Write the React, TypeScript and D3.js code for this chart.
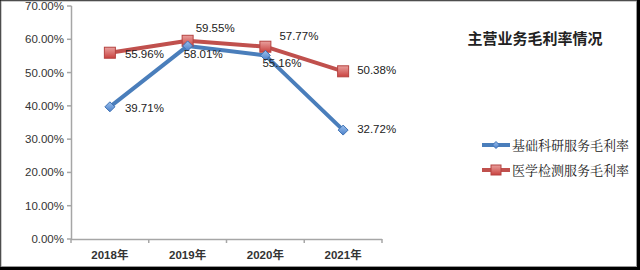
import React from "react";
import * as d3 from "d3";

const categories = ["2018年", "2019年", "2020年", "2021年"];
const seriesNames = ["基础科研服务毛利率", "医学检测服务毛利率"];
const basicResearch = [39.71, 58.01, 55.16, 32.72];
const medicalTesting = [55.96, 59.55, 57.77, 50.38];
const yTicks = [0, 10, 20, 30, 40, 50, 60, 70];
const title = "主营业务毛利率情况";

const W = 640;
const H = 270;
const font = "'Liberation Sans', Arial, sans-serif";
const cjkFont = "'Noto Sans CJK SC', sans-serif";

export default function App() {
  const x = d3.scaleBand<string>().domain(categories).range([71, 382]);
  const y = d3.scaleLinear().domain([0, 70]).range([239, 6]);
  const cx = (c: string) => (x(c) as number) + x.bandwidth() / 2;
  const line = d3
    .line<number>()
    .x((_, i) => cx(categories[i]))
    .y((d) => y(d));

  const blue = "#4f81bd";
  const red = "#c0504d";

  const blueLabelOff = [
    [15, 5],
    [-4, 12],
    [-3, 12],
    [14, 3],
  ];
  const redLabelOff = [
    [15, 5],
    [8, -9],
    [14, -7],
    [14, 3],
  ];

  const diamond = (px: number, py: number, s: number) =>
    `M${px},${py - s} L${px + s},${py} L${px},${py + s} L${px - s},${py} Z`;

  return (
    <div style={{ position: "fixed", left: 0, top: 0 }}>
      <svg width={W} height={H} style={{ display: "block" }}>
        <defs>
          <linearGradient id="redG" x1="0" y1="0" x2="0" y2="1">
            <stop offset="0" stopColor="#e9a09e" />
            <stop offset="1" stopColor="#c9423f" />
          </linearGradient>
          <linearGradient id="blueG" x1="0" y1="0" x2="0" y2="1">
            <stop offset="0" stopColor="#9cc1ee" />
            <stop offset="1" stopColor="#4a7fc8" />
          </linearGradient>
        </defs>
        <rect x={0} y={0} width={W} height={H} fill="#000" />
        <rect x={1} y={1} width={635.5} height={265.5} fill="#fff" stroke="#9a9a9a" strokeWidth={1} />

        {/* Y axis */}
        <line x1={71.5} x2={71.5} y1={y(70)} y2={y(0)} stroke="#a6a6a6" strokeWidth={1.5} />
        {yTicks.map((t) => (
          <g key={t}>
            <line x1={67} x2={71.5} y1={y(t)} y2={y(t)} stroke="#a6a6a6" strokeWidth={1.5} />
            <text
              x={64}
              y={y(t) + 4}
              textAnchor="end"
              fontFamily={font}
              fontSize={11.5}
              fill="#333"
            >
              {t.toFixed(2)}%
            </text>
          </g>
        ))}

        {/* X axis */}
        <line x1={71} x2={382} y1={y(0) + 0.5} y2={y(0) + 0.5} stroke="#a6a6a6" strokeWidth={1.5} />
        {[...categories.map((c) => x(c) as number), 382].map((v, i) => (
          <line key={i} x1={v} x2={v} y1={y(0)} y2={y(0) + 4} stroke="#a6a6a6" strokeWidth={1.5} />
        ))}
        {categories.map((c) => (
          <text
            key={c}
            x={cx(c)}
            y={259}
            textAnchor="middle"
            fontFamily={`${font}, ${cjkFont}`}
            fontSize={11.5}
            fontWeight="bold"
            fill="#333"
          >
            {c}
          </text>
        ))}

        {/* Lines */}
        <path d={line(medicalTesting) || ""} fill="none" stroke={red} strokeWidth={4} strokeLinejoin="round" />
        <path d={line(basicResearch) || ""} fill="none" stroke="#4a7ebb" strokeWidth={4} strokeLinejoin="round" />

        {/* Markers */}
        {medicalTesting.map((v, i) => (
          <rect
            key={"r" + i}
            x={cx(categories[i]) - 5.5}
            y={y(v) - 5.5}
            width={11}
            height={11}
            fill="url(#redG)"
            stroke="#b54340"
            strokeWidth={1}
          />
        ))}
        {basicResearch.map((v, i) => (
          <path
            key={"b" + i}
            d={diamond(cx(categories[i]), y(v), 5)}
            fill="url(#blueG)"
            stroke="#3f72b5"
            strokeWidth={1}
          />
        ))}

        {/* Labels */}
        {medicalTesting.map((v, i) => (
          <text
            key={"rl" + i}
            x={cx(categories[i]) + redLabelOff[i][0]}
            y={y(v) + redLabelOff[i][1]}
            fontFamily={font}
            fontSize={11.5}
            fill="#222"
          >
            {v.toFixed(2)}%
          </text>
        ))}
        {basicResearch.map((v, i) => (
          <text
            key={"bl" + i}
            x={cx(categories[i]) + blueLabelOff[i][0]}
            y={y(v) + blueLabelOff[i][1]}
            fontFamily={font}
            fontSize={11.5}
            fill="#222"
          >
            {v.toFixed(2)}%
          </text>
        ))}

        {/* Title */}
        <text
          x={535}
          y={44}
          textAnchor="middle"
          fontFamily={cjkFont}
          fontSize={15}
          fontWeight="bold"
          fill="#222"
        >
          {title}
        </text>

        {/* Legend */}
        {seriesNames.map((name, i) => {
          const ly = 145 + i * 25;
          const col = i === 0 ? "#4a7ebb" : red;
          return (
            <g key={name}>
              <line x1={482} x2={510} y1={ly} y2={ly} stroke={col} strokeWidth={4} />
              {i === 0 ? (
                <path d={diamond(496, ly, 3.5)} fill="url(#blueG)" stroke="#3f72b5" strokeWidth={1} />
              ) : (
                <rect x={491} y={ly - 5} width={10} height={10} fill="url(#redG)" stroke="#b54340" />
              )}
              <text
                x={512}
                y={ly + 5}
                fontFamily="'Noto Serif CJK SC', 'Noto Sans CJK SC', serif"
                fontSize={13}
                fill="#222"
              >
                {name}
              </text>
            </g>
          );
        })}
      </svg>
    </div>
  );
}
